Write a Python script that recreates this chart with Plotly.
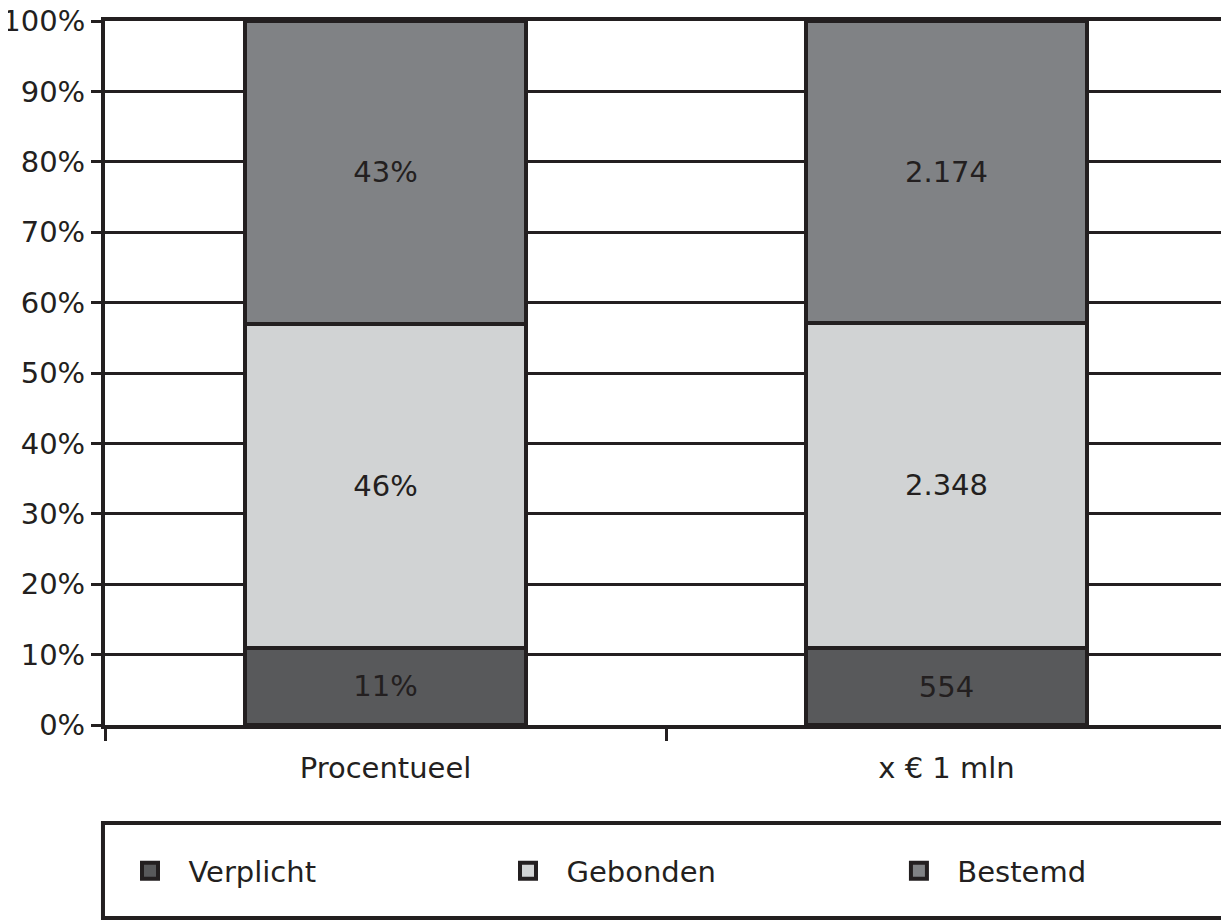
import plotly.graph_objects as go

categories = ["Procentueel", "x € 1 mln"]
series_names = ["Verplicht", "Gebonden", "Bestemd"]
percent_values = [11, 46, 43]
amount_values = [554, 2348, 2174]
colors = ["#58595b", "#d1d3d4", "#808285"]
y_ticks = list(range(0, 101, 10))

INK = "#231f20"
FONT = "DejaVu Sans"
FS = 29

# plot area: screen x 105..1227, y 21..725 (page has an 8px body margin)
PLOT_H = 704


def nl_int(v):
    return f"{v:,}".replace(",", ".")


def py(screen_y):
    return (725 - screen_y) / PLOT_H


legend_ids = ["legend", "legend2", "legend3"]
legend_x = [0.0223, 0.3592, 0.7076]

fig = go.Figure()
for name, pct, amt, col in zip(series_names, percent_values, amount_values, colors):
    fig.add_trace(go.Bar(
        x=categories, y=[pct, amt], name=name,
        text=[f"{pct}%", nl_int(amt)],
        textposition="inside", insidetextanchor="middle", textangle=0,
        textfont=dict(family=FONT, size=FS, color=INK),
        marker=dict(color=col, line=dict(color=INK, width=4)),
        width=0.5, showlegend=False, hoverinfo="skip",
    ))
# legend entries
for name, col, lid in zip(series_names, colors, legend_ids):
    fig.add_trace(go.Scatter(
        x=[None], y=[None], mode="markers", name="\u00a0\u00a0" + name, legend=lid,
        marker=dict(symbol="square", size=16, color=col, line=dict(color=INK, width=4)),
        showlegend=True,
    ))

legend_common = dict(
    orientation="h", xanchor="left", y=py(871), yanchor="middle",
    itemsizing="trace", traceorder="normal",
    font=dict(family=FONT, size=FS, color=INK),
    bgcolor="rgba(0,0,0,0)", borderwidth=0,
)

fig.update_layout(
    barmode="stack", barnorm="percent",
    width=1221, height=913,
    margin=dict(l=97, r=2, t=13, b=196, autoexpand=False),
    paper_bgcolor="white", plot_bgcolor="white",
    font=dict(family=FONT, size=FS, color=INK),
    showlegend=True,
    legend=dict(x=legend_x[0], **legend_common),
    legend2=dict(x=legend_x[1], **legend_common),
    legend3=dict(x=legend_x[2], **legend_common),
    shapes=[dict(
        type="rect", xref="paper", yref="paper",
        x0=-0.0018, x1=1.0, y0=py(918), y1=py(823),
        line=dict(color=INK, width=4), fillcolor="rgba(0,0,0,0)",
    )],
)
fig.update_xaxes(
    type="category", tickson="boundaries", ticks="outside", ticklen=12, tickwidth=3,
    tickcolor=INK, showline=True, linecolor=INK, linewidth=4, mirror=True,
    showgrid=False, ticklabelstandoff=14, automargin=False,
    tickfont=dict(family=FONT, size=FS, color=INK),
)
fig.update_yaxes(
    range=[0, 100], tickmode="array", tickvals=y_ticks,
    ticktext=[f"{v}%" for v in y_ticks], ticks="outside", ticklen=10,
    tickwidth=3, tickcolor=INK, showline=True, linecolor=INK, linewidth=4, mirror=True,
    showgrid=True, gridcolor=INK, gridwidth=3, zeroline=False, ticklabelstandoff=0,
    ticklabeloverflow="allow", automargin=False,
    tickfont=dict(family=FONT, size=FS, color=INK),
)

fig.write_html("out.html")
